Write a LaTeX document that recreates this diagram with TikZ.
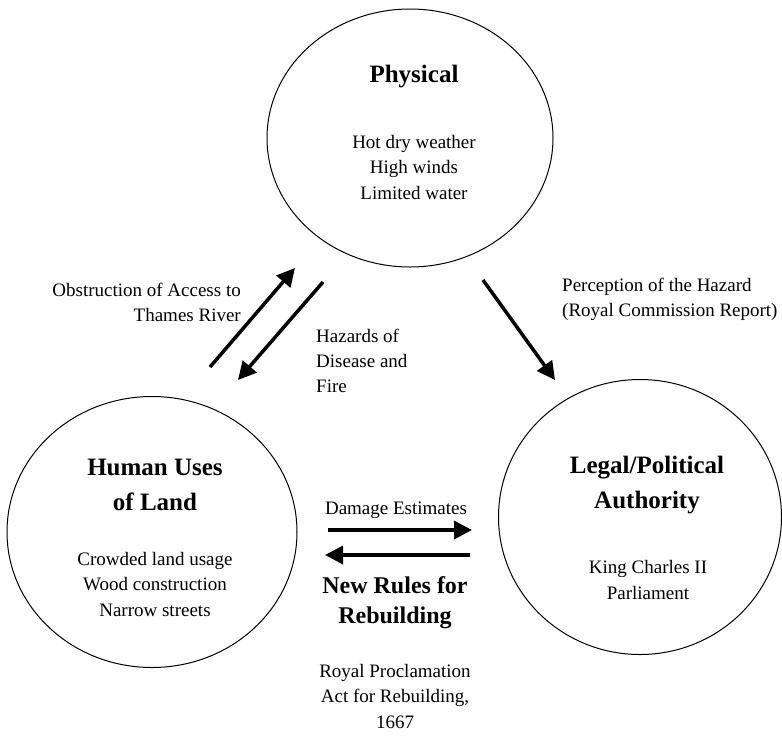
\documentclass[tikz,border=0pt]{standalone}
\usepackage{fontspec}
\setmainfont{Liberation Serif}
\usetikzlibrary{shapes.geometric,arrows.meta}
\begin{document}
\begin{tikzpicture}[x=1pt,y=-1pt,
  realm/.style={ellipse,draw,line width=1pt,inner sep=0pt},
  title/.style={font=\fontsize{25}{35}\selectfont\bfseries,align=center,inner sep=0pt},
  items/.style={font=\fontsize{19}{25.5}\selectfont,align=center,inner sep=0pt},
  note/.style={font=\fontsize{19}{25}\selectfont,inner sep=0pt},
  flow/.style={line width=3.5pt,-{Triangle[length=18pt,width=18pt]}}]
\useasboundingbox (0,0) rectangle (782,740);

% three realms
\node[realm,minimum width=286pt,minimum height=258pt] (phys)  at (410,138) {};
\node[realm,minimum width=290pt,minimum height=271pt] (human) at (152,532) {};
\node[realm,minimum width=283pt,minimum height=275pt] (legal) at (640,517) {};

% realm contents
\node[title] (physT) at (414,77) {Physical};
\node[items] (physL) at (414,167) {Hot dry weather\\High winds\\Limited water};
\node[title] (humanT) at (155,485) {Human Uses\\of Land};
\node[items] (humanL) at (155,584) {Crowded land usage\\Wood construction\\Narrow streets};
\node[title] (legalT) at (647,485) {Legal/Political\\Authority};
\node[items] (legalL) at (648,580) {King Charles II\\Parliament};

% connector ends
\coordinate (upS) at (210,367);   \coordinate (upE) at (295,268);
\coordinate (dnS) at (323,282);   \coordinate (dnE) at (238,380);
\coordinate (prS) at (483,280);   \coordinate (prE) at (555,380);
\coordinate (rtS) at (328,530);   \coordinate (rtE) at (472,530);
\coordinate (ltS) at (470,555);   \coordinate (ltE) at (325,555);

\draw[flow] (upS) -- (upE);
\draw[flow] (dnS) -- (dnE);
\draw[flow] (prS) -- (prE);
\draw[flow] (rtS) -- (rtE);
\draw[flow] (ltS) -- (ltE);

% connector labels
\node[note,align=right,anchor=east] (obst) at (241,302) {Obstruction of Access to\\Thames River};
\node[note,align=left,anchor=west] (haz) at (316,361) {Hazards of\\Disease and\\Fire};
\node[note,align=left,anchor=west] (perc) at (562,299) {Perception of the Hazard\\(Royal Commission Report)};
\node[note] (dmg) at (396,510) {Damage Estimates};
\node[title,font=\fontsize{24}{30}\selectfont\bfseries] (rules) at (395,603) {New Rules for\\Rebuilding};
\node[items] (procl) at (395,696) {Royal Proclamation\\Act for Rebuilding,\\1667};
\end{tikzpicture}
\end{document}
